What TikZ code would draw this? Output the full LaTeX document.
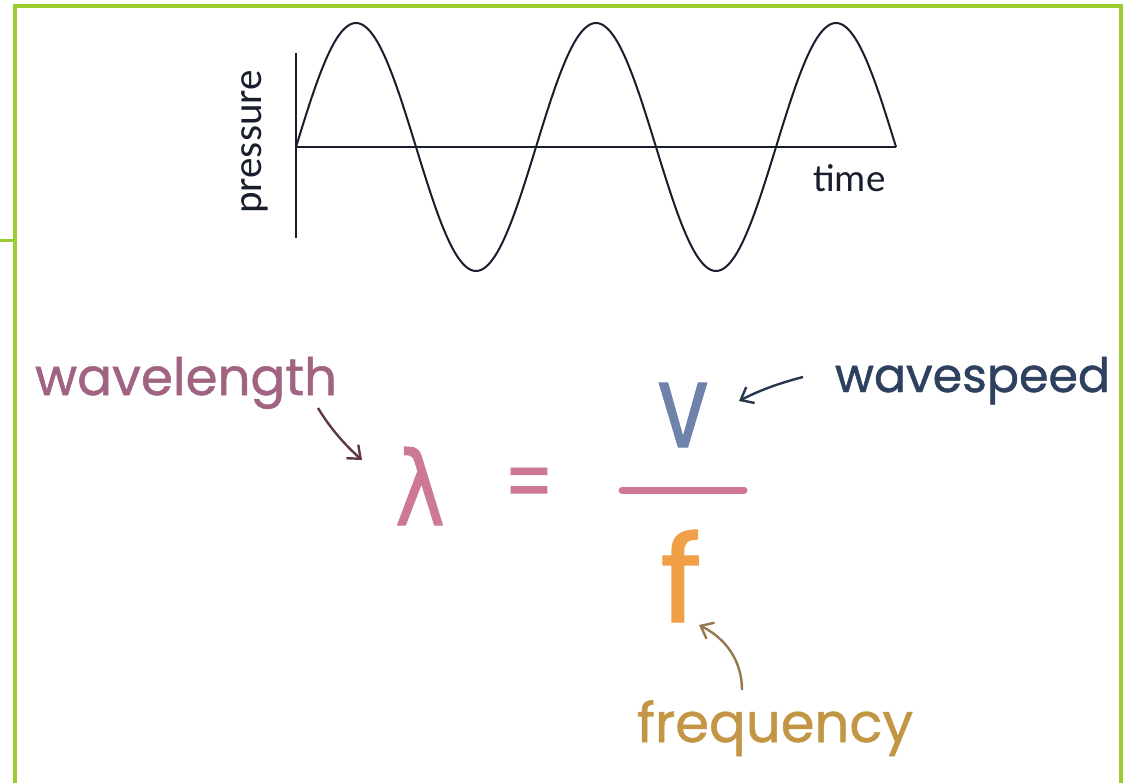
\documentclass[tikz,border=0pt]{standalone}
\usepackage{fontspec}
\setmainfont{Poppins}
\newfontfamily\handfont{Poppins}[FakeBold=1.0]
\newfontfamily\calfont{Carlito}
\newfontfamily\greekfont{DejaVu Sans}[FakeBold=1.0]
\usetikzlibrary{arrows.meta}
\definecolor{frame}{RGB}{154,205,50}
\definecolor{axis}{RGB}{25,30,45}
\definecolor{wlcol}{RGB}{160,100,130}
\definecolor{lamcol}{RGB}{205,120,150}
\definecolor{wscol}{RGB}{45,65,95}
\definecolor{vcol}{RGB}{110,130,170}
\definecolor{fcol}{RGB}{240,160,70}
\definecolor{fqcol}{RGB}{195,150,70}
\definecolor{wlarr}{RGB}{95,55,75}
\definecolor{wsarr}{RGB}{40,55,80}
\definecolor{fqarr}{RGB}{150,120,80}
\begin{document}
\begin{tikzpicture}[x=1pt,y=-1pt,
  framel/.style={draw=frame,line width=4.5pt},
  axisl/.style={draw=axis,line width=2.2pt},
  lbl/.style={inner sep=0pt,outer sep=0pt,font=\handfont},
  handarrow/.style={line width=2.4pt,-{Straight Barb[length=11pt,width=18pt]}}]
\useasboundingbox (0,0) rectangle (1134,783);
% frame
\draw[framel] (13,6) -- (1121,6) -- (1121,783);
\draw[framel] (15,6) -- (15,783);
\draw[draw=frame,line width=3pt] (0,241) -- (15,241);
% axes and wave
\draw[axisl] (296,53) -- (296,238);
\draw[axisl] (296,147) -- (896,147);
\draw[axis,line width=2pt] plot[domain=0:600,samples=241,smooth] ({296+\x},{147-124*sin(1.5*\x)});
\node[inner sep=0pt,rotate=90,font=\calfont\fontsize{41}{41}\selectfont,text=axis] (pressure) at (255,142) {pressure};
\node[inner sep=0pt,anchor=base west,font=\calfont\fontsize{39}{39}\selectfont,text=axis] (time) at (813,192) {time};
% labels
\node[lbl,anchor=base west,text=wlcol] (wl) at (35,395) {\resizebox{302pt}{!}{wavelength}};
\node[lbl,anchor=base west,text=wscol] (ws) at (835,392) {\resizebox{275pt}{!}{wavespeed}};
\node[lbl,anchor=base west,text=fqcol] (fq) at (637,742) {\resizebox{276pt}{!}{frequency}};
% formula
\node[lbl,anchor=base west,text=lamcol] (lam) at (395,525) {\resizebox{50pt}{78pt}{\greekfont λ}};
\node[lbl,anchor=base,text=lamcol] (eq) at (529,512) {\resizebox{50pt}{44pt}{=}};
\node[lbl,anchor=base west,text=vcol] (v) at (658,447) {\resizebox{50pt}{64pt}{v}};
\node[lbl,anchor=base west,text=fcol] (f) at (660,622) {\resizebox{42pt}{92pt}{f}};
\draw[draw=lamcol,line width=7pt,line cap=round] (v.south west) ++(-36,43) coordinate (barL) -- ++(122,0) coordinate (barR);
% arrows
\coordinate (wlS) at (318,408);
\coordinate (lamT) at (362,460);
\draw[handarrow,draw=wlarr] (wlS) .. controls (330,428) and (345,445) .. (lamT);
\coordinate (wsS) at (803,377);
\coordinate (vT) at (739,401);
\draw[handarrow,draw=wsarr] (wsS) .. controls (780,383) and (760,390) .. (vT);
\coordinate (fqS) at (742,690);
\coordinate (fT) at (699,625);
\draw[handarrow,draw=fqarr] (fqS) .. controls (742,660) and (725,638) .. (fT);
\end{tikzpicture}
\end{document}
